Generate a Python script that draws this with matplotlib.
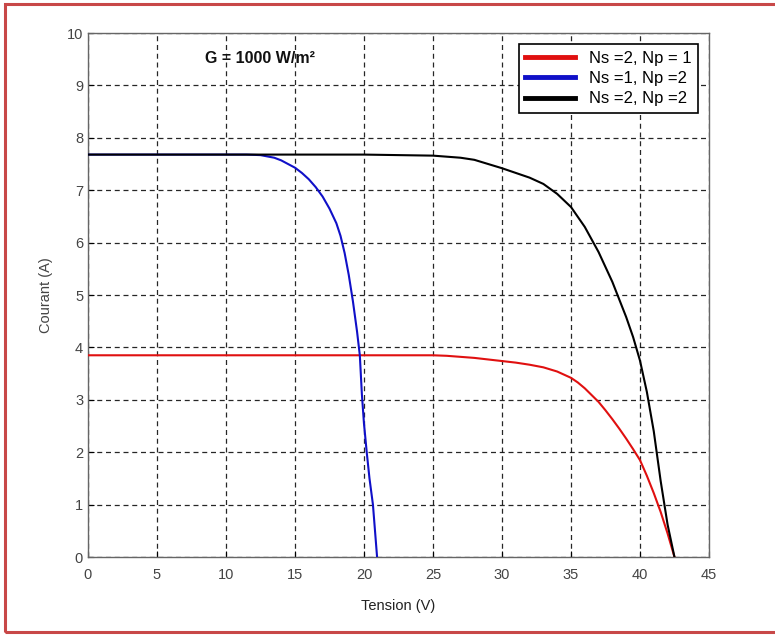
import matplotlib
matplotlib.use('Agg')
import matplotlib.pyplot as plt
from matplotlib.patches import Rectangle

plt.rcParams['font.family'] = ['Liberation Sans', 'DejaVu Sans']

# I-V curves, G = 1000 W/m2
v_red = [0, 5, 10, 15, 20, 25, 26, 27, 28, 29, 30, 31, 32, 33, 34, 35, 35.5, 36, 37, 37.5,
         38, 38.5, 39, 39.5, 40, 40.5, 41, 41.5, 42, 42.5]
i_red = [3.85, 3.85, 3.85, 3.85, 3.85, 3.85, 3.84, 3.82, 3.80, 3.77, 3.74, 3.71, 3.67, 3.62, 3.54, 3.42, 3.33, 3.22, 2.96, 2.8,
         2.63, 2.45, 2.26, 2.06, 1.85, 1.55, 1.22, 0.86, 0.45, 0]

v_blue = [0, 10, 11.5, 12.5, 13.5, 14, 15, 15.5, 16, 16.5, 17, 17.5, 18, 18.3, 18.6, 18.9, 19.2, 19.5, 19.7,
          19.85, 20.0, 20.2, 20.4, 20.65, 20.8, 20.95]
i_blue = [7.68, 7.68, 7.68, 7.67, 7.62, 7.57, 7.43, 7.33, 7.21, 7.06, 6.88, 6.65, 6.37, 6.13, 5.8, 5.38, 4.88, 4.3, 3.85,
          3.1, 2.55, 2.0, 1.5, 1.0, 0.5, 0]

v_black = [0, 10, 20, 25, 26, 27, 28, 29, 30, 31, 32, 33, 34, 35, 36, 37, 38, 39, 39.5,
           40, 40.5, 41, 41.5, 42, 42.5]
i_black = [7.68, 7.68, 7.68, 7.66, 7.64, 7.62, 7.58, 7.5, 7.42, 7.33, 7.24, 7.12, 6.93, 6.68, 6.3, 5.82, 5.25, 4.58, 4.2,
           3.75, 3.15, 2.4, 1.45, 0.62, 0]

labels = ['Ns =2, Np = 1', 'Ns =1, Np =2', 'Ns =2, Np =2']
x_ticks = list(range(0, 50, 5))
y_ticks = list(range(0, 11))

fig = plt.figure(figsize=(7.75, 6.35), dpi=100)
ax = fig.add_axes([0.1135, 0.1228, 0.8013, 0.8252])

ax.plot(v_red, i_red, color='#e01010', linewidth=1.5, label=labels[0], zorder=3)
ax.plot(v_blue, i_blue, color='#1010c8', linewidth=1.5, label=labels[1], zorder=3)
ax.plot(v_black, i_black, color='black', linewidth=1.5, label=labels[2], zorder=4)

ax.set_xlim(0, 45)
ax.set_ylim(0, 10)
ax.set_xticks(x_ticks)
ax.set_yticks(y_ticks)
ax.grid(True, color='black', linestyle=(0, (4, 3)), linewidth=0.9, alpha=0.85)
ax.tick_params(direction='in', labelsize=10.5, labelcolor='#444444', length=4)
ax.tick_params(axis='x', pad=8)
for s in ax.spines.values():
    s.set_color('#666666')
    s.set_linewidth(1)

ax.set_xlabel('Tension (V)', fontsize=10.5, color='#222222', labelpad=12)
ax.set_ylabel('Courant (A)', fontsize=10.5, color='#444444', labelpad=10)

ax.text(8.5, 9.52, 'G = 1000 W/m²', fontsize=11.5, fontweight='bold', va='center', color='#111111')

leg = ax.legend(loc='upper right', bbox_to_anchor=(0.982, 0.979), borderaxespad=0, fontsize=12,
                fancybox=False, edgecolor='black', framealpha=1, handlelength=3.0,
                handletextpad=0.8, borderpad=0.4, labelspacing=0.32)
for h in leg.get_lines():
    h.set_linewidth(3.5)
leg.get_frame().set_linewidth(1.2)

# red frame around the whole figure
fig.patches.append(Rectangle((5 / 775, 3 / 635), 1.0, 628 / 635, transform=fig.transFigure,
                             fill=False, edgecolor='#c84848', linewidth=2.2))

plt.savefig('out.png', dpi=100)
plt.close()
